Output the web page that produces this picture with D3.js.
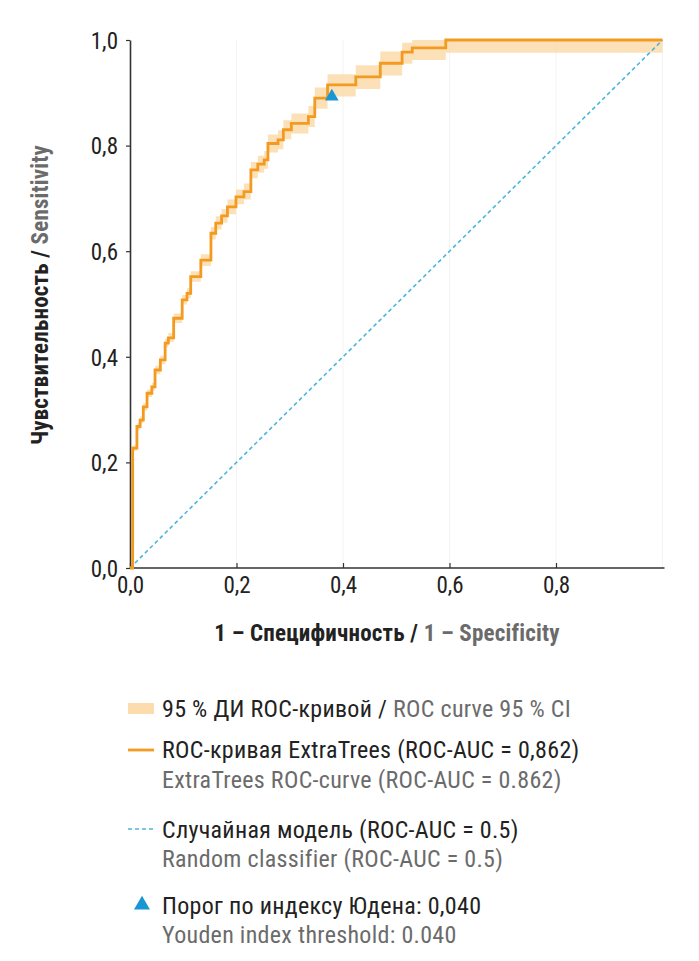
<!DOCTYPE html>
<html>
<head>
<meta charset="utf-8">
<script src="https://cdn.jsdelivr.net/npm/d3@7"></script>
<style>
  body { margin: 0; background: #fff; }
  text { font-family: "Roboto Condensed", "Liberation Sans Narrow", "DejaVu Sans Condensed", sans-serif; }
</style>
</head>
<body>
<script>
// ROC curve points (fpr, tpr) and the 95 % CI band
var fpr = [0.000, 0.005, 0.013, 0.019, 0.025, 0.032, 0.041, 0.047, 0.057, 0.066,
           0.072, 0.082, 0.098, 0.107, 0.114, 0.133, 0.152, 0.161, 0.172, 0.183,
           0.199, 0.214, 0.227, 0.240, 0.252, 0.259, 0.278, 0.288, 0.303, 0.335,
           0.347, 0.371, 0.424, 0.470, 0.511, 0.530, 0.593, 1.000];
var tpr = [0.000, 0.227, 0.268, 0.280, 0.305, 0.331, 0.343, 0.375, 0.394, 0.426,
           0.436, 0.473, 0.508, 0.520, 0.552, 0.583, 0.634, 0.653, 0.667, 0.684,
           0.703, 0.713, 0.754, 0.765, 0.773, 0.804, 0.811, 0.830, 0.842, 0.855,
           0.890, 0.915, 0.930, 0.956, 0.977, 0.985, 1.000, 1.000];
var ciLow = [0.000, 0.222, 0.262, 0.274, 0.298, 0.324, 0.336, 0.367, 0.386, 0.418,
             0.428, 0.464, 0.499, 0.511, 0.542, 0.572, 0.622, 0.641, 0.654, 0.670,
             0.689, 0.698, 0.738, 0.749, 0.756, 0.787, 0.793, 0.812, 0.823, 0.835,
             0.870, 0.893, 0.907, 0.933, 0.955, 0.962, 0.976, 0.976];
var ciHigh = [0.000, 0.232, 0.274, 0.287, 0.312, 0.338, 0.351, 0.383, 0.402, 0.434,
              0.445, 0.482, 0.517, 0.530, 0.562, 0.594, 0.646, 0.666, 0.680, 0.698,
              0.717, 0.728, 0.769, 0.781, 0.790, 0.821, 0.829, 0.848, 0.861, 0.875,
              0.910, 0.935, 0.952, 0.978, 0.995, 1.000, 1.000, 1.000];
var diagonal = [0, 1];
var youdenFpr = 0.379, youdenTpr = 0.893;

var xTicks = [0, 0.2, 0.4, 0.6, 0.8];
var yTicks = [0, 0.2, 0.4, 0.6, 0.8, 1.0];

var orange = "#f39a21", band = "#fcdcac", blue = "#4ab6dc", tri = "#1897d4";
var dark = "#222", grey = "#6b6b6b";
var fontFam = "'Roboto Condensed', 'Liberation Sans Narrow', 'DejaVu Sans Condensed', sans-serif";

var W = 699, H = 961;
var svg = d3.select("body").append("svg")
    .attr("width", W).attr("height", H)
    .attr("viewBox", "0 0 " + W + " " + H);

var x = d3.scaleLinear().domain([0, 1]).range([130, 662.5]);
var y = d3.scaleLinear().domain([0, 1]).range([568, 40]);
var fmt = function(d){ return d3.format(".1f")(d).replace(".", ","); };

var pts = fpr.map(function(f, i){ return {f: f, t: tpr[i], lo: ciLow[i], hi: ciHigh[i]}; });

// faint grid
svg.append("g").selectAll("line").data(xTicks.slice(1).concat([1]))
  .enter().append("line")
  .attr("x1", function(d){ return x(d); }).attr("x2", function(d){ return x(d); })
  .attr("y1", y(1)).attr("y2", y(0))
  .attr("stroke", "#f3f3f3").attr("stroke-width", 1);

// axes
var xAxis = svg.append("g")
    .attr("transform", "translate(0," + y(0) + ")")
    .call(d3.axisBottom(x).tickValues(xTicks).tickFormat(fmt).tickSize(-5).tickSizeOuter(0).tickPadding(9));
var yAxis = svg.append("g")
    .attr("transform", "translate(" + x(0) + ",0)")
    .call(d3.axisLeft(y).tickValues(yTicks).tickFormat(fmt).tickSize(4).tickSizeOuter(0).tickPadding(8));

xAxis.select(".domain").attr("d", "M" + x(0) + ",0H" + (x(1) + 2));
[xAxis, yAxis].forEach(function(a){
  a.select(".domain").attr("stroke", "#333").attr("stroke-width", 1.6);
  a.selectAll(".tick line").attr("stroke", "#333").attr("stroke-width", 1.2);
  a.selectAll(".tick text").attr("font-size", 23).attr("fill", dark)
    .style("font-family", fontFam);
});
yAxis.selectAll(".tick text").attr("dy", "0.36em");

// CI band
svg.append("path").datum(pts)
  .attr("fill", band).attr("opacity", 0.85)
  .attr("d", d3.area().curve(d3.curveStepAfter)
    .x(function(d){ return x(d.f); })
    .y0(function(d){ return y(d.lo); })
    .y1(function(d){ return y(d.hi); }));

// random classifier
svg.append("path").datum(diagonal)
  .attr("fill", "none").attr("stroke", blue).attr("stroke-width", 1.6)
  .attr("stroke-dasharray", "4,3")
  .attr("d", d3.line().x(function(d){ return x(d); }).y(function(d){ return y(d); }));

// ROC curve
svg.append("path").datum(pts)
  .attr("fill", "none").attr("stroke", orange).attr("stroke-width", 2.8)
  .attr("d", d3.line().curve(d3.curveStepAfter)
    .x(function(d){ return x(d.f); })
    .y(function(d){ return y(d.t); }));

// Youden point
svg.append("path")
  .attr("transform", "translate(" + x(youdenFpr) + "," + y(youdenTpr) + ")")
  .attr("d", d3.symbol().type(d3.symbolTriangle).size(80)())
  .attr("fill", tri);

// axis titles
var xt = svg.append("text").attr("x", 387).attr("y", 641)
  .attr("text-anchor", "middle").attr("font-size", 23).attr("font-weight", "bold")
  .attr("letter-spacing", 0.2);
xt.append("tspan").attr("fill", dark).text("1 – Специфичность / ");
xt.append("tspan").attr("fill", grey).text("1 – Specificity");

var yt = svg.append("text").attr("transform", "translate(48,295) rotate(-90)")
  .attr("text-anchor", "middle").attr("font-size", 23).attr("font-weight", "bold")
  .attr("letter-spacing", 0.2);
yt.append("tspan").attr("fill", dark).text("Чувствительность / ");
yt.append("tspan").attr("fill", grey).text("Sensitivity");

// legend
var lx = 162, fs = 24, ls = 0.3;
function legendText(yy, color, str) {
  return svg.append("text").attr("x", lx).attr("y", yy)
    .attr("font-size", fs).attr("letter-spacing", ls).attr("fill", color).text(str);
}

svg.append("rect").attr("x", 128).attr("y", 703).attr("width", 26).attr("height", 11).attr("fill", band);
var l1 = svg.append("text").attr("x", lx).attr("y", 717).attr("font-size", fs).attr("letter-spacing", ls);
l1.append("tspan").attr("fill", dark).text("95 % ДИ ROC-кривой / ");
l1.append("tspan").attr("fill", grey).text("ROC curve 95 % CI");

svg.append("line").attr("x1", 128).attr("x2", 154).attr("y1", 750).attr("y2", 750)
  .attr("stroke", orange).attr("stroke-width", 2.8);
legendText(758, dark, "ROC-кривая ExtraTrees (ROC-AUC = 0,862)");
legendText(788, grey, "ExtraTrees ROC-curve (ROC-AUC = 0.862)");

svg.append("line").attr("x1", 128).attr("x2", 154).attr("y1", 829).attr("y2", 829)
  .attr("stroke", blue).attr("stroke-width", 1.6).attr("stroke-dasharray", "4,3");
legendText(838, dark, "Случайная модель (ROC-AUC = 0.5)");
legendText(867, grey, "Random classifier (ROC-AUC = 0.5)");

svg.append("path").attr("transform", "translate(142,905)")
  .attr("d", d3.symbol().type(d3.symbolTriangle).size(110)())
  .attr("fill", tri);
legendText(914, dark, "Порог по индексу Юдена: 0,040");
legendText(943, grey, "Youden index threshold: 0.040");
</script>
</body>
</html>
